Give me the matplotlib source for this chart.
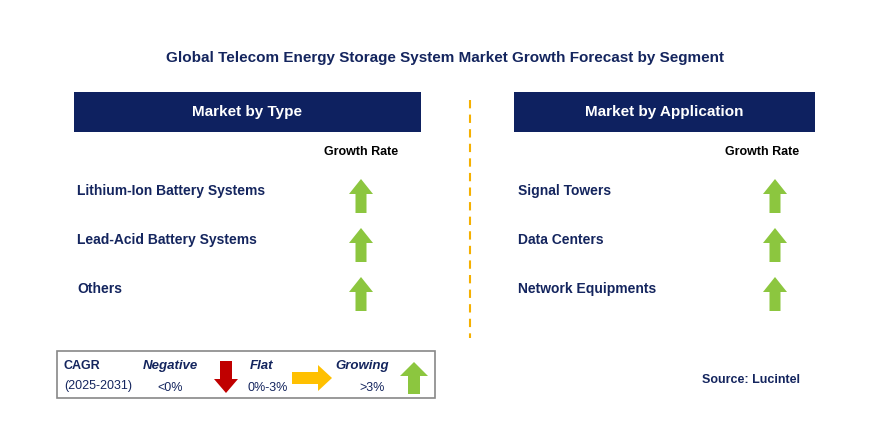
import matplotlib
matplotlib.use("Agg")
import matplotlib.pyplot as plt
from matplotlib.patches import Rectangle, Polygon

title = "Global Telecom Energy Storage System Market Growth Forecast by Segment"
type_cats = ["Lithium-Ion Battery Systems", "Lead-Acid Battery Systems", "Others"]
type_growth = ["up", "up", "up"]
app_cats = ["Signal Towers", "Data Centers", "Network Equipments"]
app_growth = ["up", "up", "up"]
source = "Source: Lucintel"

NAVY = "#0E2160"
TXT = "#14255E"
GREEN = "#8CC63F"
fig = plt.figure(figsize=(8.79, 4.28), dpi=100)
ax = fig.add_axes([0, 0, 1, 1])
ax.set_xlim(0, 879); ax.set_ylim(428, 0); ax.axis("off")
F = "Liberation Sans"

def up_arrow(cx, cy, h=34, sw=11, hw=24, hh=15, c=GREEN):
    top = cy - h/2; bot = cy + h/2
    pts = [(cx-sw/2, bot), (cx-sw/2, top+hh), (cx-hw/2, top+hh), (cx, top),
           (cx+hw/2, top+hh), (cx+sw/2, top+hh), (cx+sw/2, bot)]
    ax.add_patch(Polygon(pts, closed=True, color=c, lw=0))

def down_arrow(cx, cy, h=34, sw=11, hw=24, hh=15, c="#C00000"):
    top = cy - h/2; bot = cy + h/2
    pts = [(cx-sw/2, top), (cx-sw/2, bot-hh), (cx-hw/2, bot-hh), (cx, bot),
           (cx+hw/2, bot-hh), (cx+sw/2, bot-hh), (cx+sw/2, top)]
    ax.add_patch(Polygon(pts, closed=True, color=c, lw=0))

def right_arrow(cx, cy, w=38, sh=12, hh=24, hw=14, c="#FFC000"):
    l = cx - w/2; r = cx + w/2
    pts = [(l, cy-sh/2), (r-hw, cy-sh/2), (r-hw, cy-hh/2), (r, cy),
           (r-hw, cy+hh/2), (r-hw, cy+sh/2), (l, cy+sh/2)]
    ax.add_patch(Polygon(pts, closed=True, color=c, lw=0))

ax.text(445, 58, title, ha="center", va="center", fontsize=11, fontweight="bold", color=TXT, family=F)

def panel(x0, x1, head, cats, growth, tx, ax_x, gr_x):
    ax.add_patch(Rectangle((x0, 92), x1-x0, 40, color=NAVY, lw=0))
    ax.text((x0+x1)/2, 112, head, ha="center", va="center", fontsize=11, fontweight="bold", color="white", family=F)
    ax.text(gr_x, 152, "Growth Rate", ha="center", va="center", fontsize=9, fontweight="bold", color="black", family=F)
    for i, (c, g) in enumerate(zip(cats, growth)):
        y = 191 + i*49
        ax.text(tx, y, c, ha="left", va="center", fontsize=10, fontweight="bold", color=TXT, family=F)
        if g == "up": up_arrow(ax_x, y + 5)
        elif g == "down": down_arrow(ax_x, y + 5)
        else: right_arrow(ax_x, y + 5)

panel(74, 421, "Market by Type", type_cats, type_growth, 77, 361, 361)
panel(514, 815, "Market by Application", app_cats, app_growth, 518, 775, 762)

ax.plot([470, 470], [100, 338], ls=(0, (4, 3)), color="#F5B000", lw=1.5)

ax.add_patch(Rectangle((57, 351), 378, 47, fill=False, ec="#888888", lw=1.2))
ax.text(64, 366, "CAGR", fontsize=9, fontweight="bold", color=TXT, va="center", family=F)
ax.text(64, 386, "(2025-2031)", fontsize=9, color=TXT, va="center", family=F)
ax.text(170, 366, "Negative", fontsize=9.5, fontweight="bold", style="italic", color=TXT, va="center", ha="center", family=F)
ax.text(170, 388, "<0%", fontsize=9, color=TXT, va="center", ha="center", family=F)
down_arrow(226, 377, h=32, sw=12, hw=24, hh=14)
ax.text(262, 366, "Flat", fontsize=9.5, fontweight="bold", style="italic", color=TXT, va="center", ha="center", family=F)
ax.text(268, 388, "0%-3%", fontsize=9, color=TXT, va="center", ha="center", family=F)
right_arrow(312, 378, w=40, sh=12, hh=26, hw=14)
ax.text(362, 366, "Growing", fontsize=9.5, fontweight="bold", style="italic", color=TXT, va="center", ha="center", family=F)
ax.text(372, 388, ">3%", fontsize=9, color=TXT, va="center", ha="center", family=F)
up_arrow(414, 378, h=32, sw=12, hw=28, hh=14)

ax.text(800, 380, source, ha="right", va="center", fontsize=9, fontweight="bold", color=TXT, family=F)

fig.savefig("out.png", dpi=100)
